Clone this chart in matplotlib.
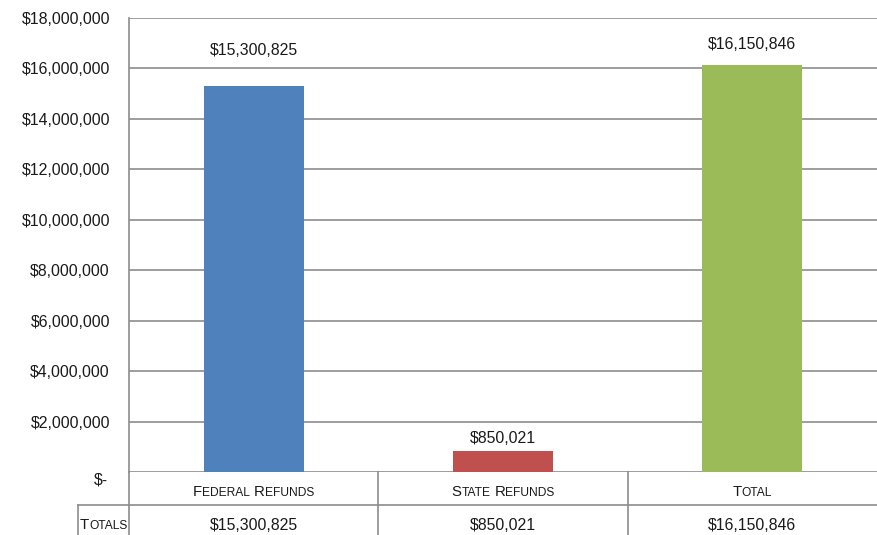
import matplotlib
matplotlib.use("Agg")
import matplotlib.pyplot as plt
from matplotlib.offsetbox import TextArea, HPacker, AnnotationBbox
from matplotlib.transforms import ScaledTranslation

# data
categories = ["Federal Refunds", "State Refunds", "Total"]
values = [15300825, 850021, 16150846]
bar_colors = ["#4F81BD", "#C0504D", "#9BBB59"]
yticks = list(range(0, 18000001, 2000000))
row_label = "Totals"

plt.rcParams["font.family"] = ["Liberation Sans", "DejaVu Sans"]
FS = 11.4
TXT = "#1a1a1a"
GRID = "#8c8c8c"


def money(v):
    return "$-" if v == 0 else f"${v:,.0f}"


def small_caps(text, size):
    """HPacker of TextAreas mimicking Word's small caps."""
    parts = []
    for word_i, word in enumerate(text.split(" ")):
        if word_i:
            parts.append(TextArea(" ", textprops=dict(size=size, color=TXT)))
        parts.append(TextArea(word[0].upper(), textprops=dict(size=size, color=TXT)))
        if len(word) > 1:
            parts.append(TextArea(word[1:].upper(), textprops=dict(size=size * 0.8, color=TXT)))
    return HPacker(children=parts, align="baseline", pad=0, sep=0)


W, H = 877, 535
fig = plt.figure(figsize=(W / 100, H / 100), dpi=100)
left, top, bottom = 129, 18, 472
ax = fig.add_axes([left / W, (H - bottom) / H, (W - left) / W, (bottom - top) / H])

x = range(len(categories))
ax.bar(x, values, width=0.4, color=bar_colors, zorder=3)
ax.set_xlim(-0.5, 2.5)
ax.set_ylim(0, 18000000)
ax.set_yticks(yticks)
ax.set_yticklabels([money(v) for v in yticks], fontsize=FS, color=TXT)
ax.tick_params(axis="y", length=0, pad=13.7)
ax.set_xticks([])
ax.grid(axis="y", color=GRID, lw=1.2, zorder=0)
for s in ["top", "right", "bottom"]:
    ax.spines[s].set_visible(False)
ax.spines["left"].set_color(GRID)
ax.spines["left"].set_linewidth(1.2)

# zero label sits a little lower (accounting format)
zl = ax.get_yticklabels()[0]
zl.set_transform(zl.get_transform() + ScaledTranslation(-2 / 100, -6 / 100, fig.dpi_scale_trans))

# value labels above bars
label_offsets = [20, 3, 9]
for xi, v, off in zip(x, values, label_offsets):
    ax.annotate(money(v), (xi, v), xytext=(0, off), textcoords="offset points",
                ha="center", va="bottom", fontsize=FS, color=TXT)

# data table under the chart
ph = bottom - top
r1 = -33 / ph
r2 = -(H - bottom + 2) / ph
y_row1 = -20 / ph
y_row2 = -53 / ph
xt = ax.get_xaxis_transform()
x_lab = -0.5 - 51 / 249.5
kw = dict(color=GRID, lw=1.2, transform=xt, clip_on=False)
ax.plot([x_lab, 2.5], [r1, r1], **kw)
for b in [-0.5, 0.5, 1.5]:
    ax.plot([b, b], [0, r2], **kw)
ax.plot([x_lab, x_lab], [r1, r2], **kw)

for xi, c, v in zip(x, categories, values):
    ab = AnnotationBbox(small_caps(c, FS * 0.95), (xi, y_row1), xycoords=xt,
                        frameon=False, box_alignment=(0.5, 0.5), annotation_clip=False)
    ax.add_artist(ab)
    ax.text(xi, y_row2, money(v), transform=xt, ha="center", va="center",
            fontsize=FS, color=TXT, clip_on=False)

ab = AnnotationBbox(small_caps(row_label, FS * 0.95), ((x_lab - 0.5) / 2, y_row2), xycoords=xt,
                    frameon=False, box_alignment=(0.5, 0.5), annotation_clip=False)
ax.add_artist(ab)

fig.savefig("out.png", dpi=100)
